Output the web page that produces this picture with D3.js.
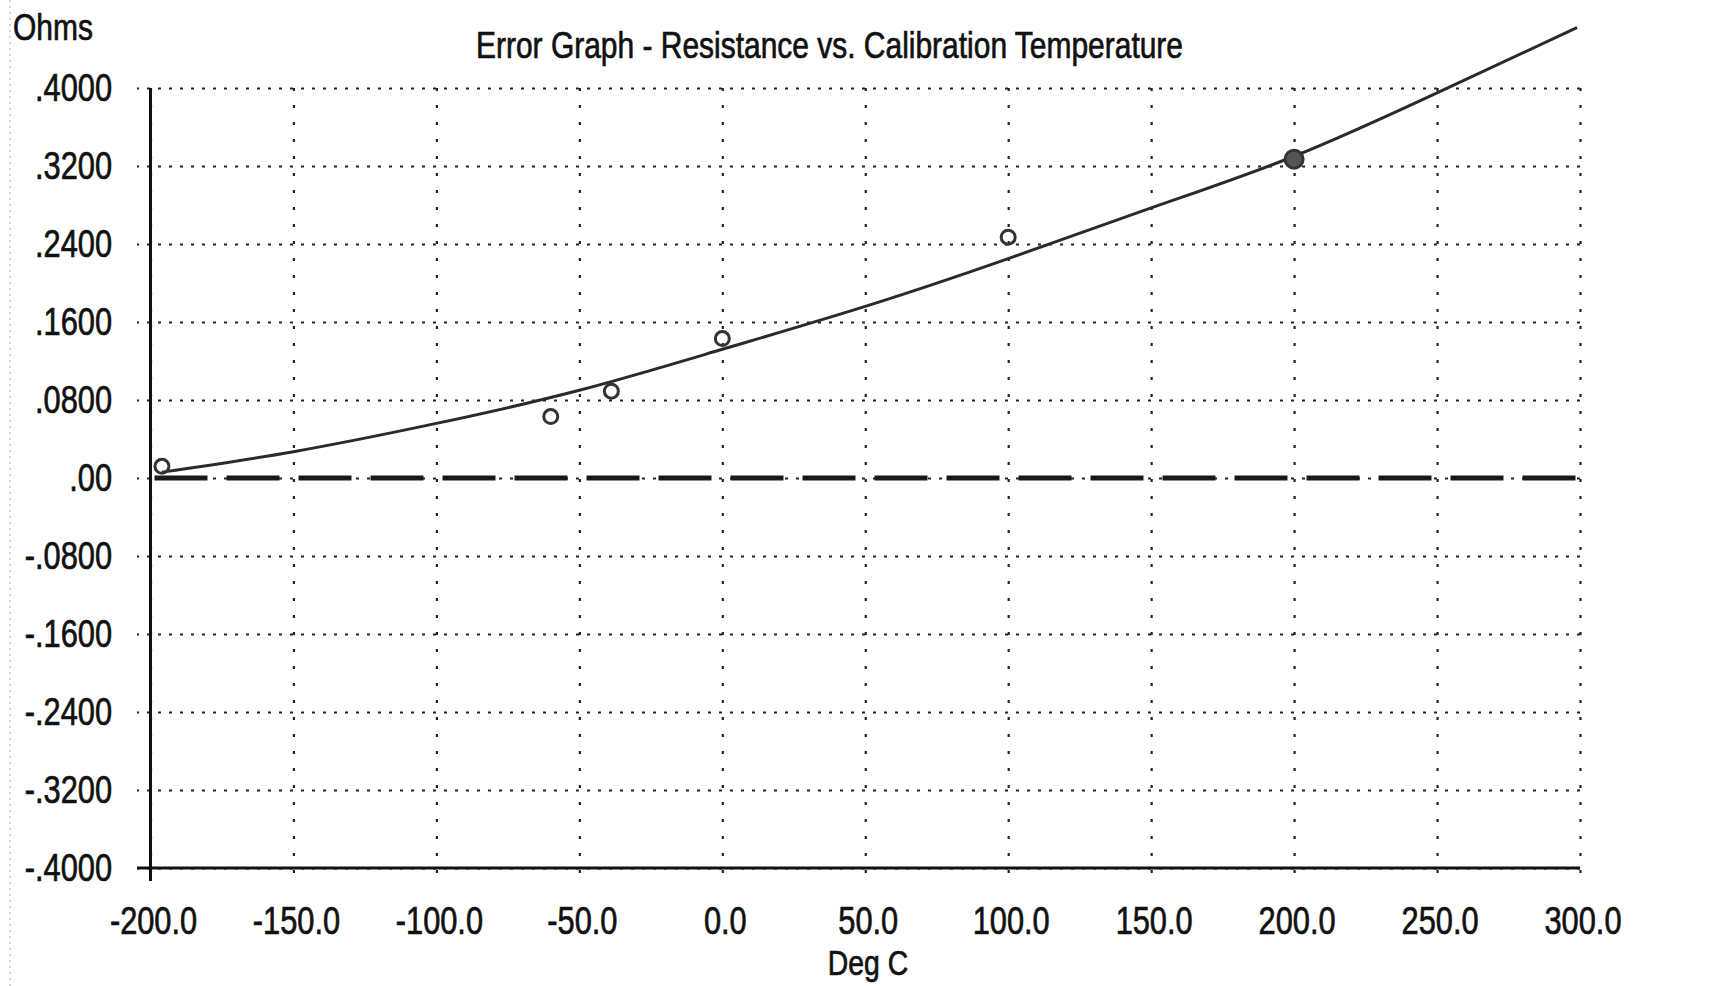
<!DOCTYPE html>
<html>
<head>
<meta charset="utf-8">
<script src="https://cdn.jsdelivr.net/npm/d3@7"></script>
<style>
  html, body { margin: 0; padding: 0; background: #fff; }
  svg { display: block; }
  text { font-family: "Liberation Sans", Arial, sans-serif; fill: #111; stroke: #111; stroke-width: 0.7; }
</style>
</head>
<body>
<svg id="chart" width="1723" height="986"></svg>
<script>
// ---- data ----
const titleText = "Error Graph - Resistance vs. Calibration Temperature";
const yAxisTitle = "Ohms";
const xAxisTitle = "Deg C";

const xTicks = [-200, -150, -100, -50, 0, 50, 100, 150, 200, 250, 300];
const xTickLabels = ["-200.0", "-150.0", "-100.0", "-50.0", "0.0", "50.0", "100.0", "150.0", "200.0", "250.0", "300.0"];

const yTicks = [0.4, 0.32, 0.24, 0.16, 0.08, 0, -0.08, -0.16, -0.24, -0.32, -0.4];
const yTickLabels = [".4000", ".3200", ".2400", ".1600", ".0800", ".00", "-.0800", "-.1600", "-.2400", "-.3200", "-.4000"];

// fitted error curve
const curveTemps  = [-196, -150, -100, -50, 0, 50, 100, 150, 200, 250, 299];
const curveErrors = [0.006, 0.027, 0.056, 0.090, 0.132, 0.176, 0.225, 0.277, 0.330, 0.395, 0.462];

// calibration points
const pointTemps  = [-196, -60, -38.8, 0.01, 100, 200];
const pointErrors = [0.012, 0.063, 0.089, 0.143, 0.247, 0.327];
const pointFilled = [false, false, false, false, false, true];

// zero reference line
const zeroLine = [[-200, 0], [300, 0]];

// ---- drawing ----
const svg = d3.select("#chart");
const sx = 0.81; // horizontal compression of the narrow bitmap font

const x = d3.scaleLinear().domain([-200, 300]).range([150.5, 1580]);
const y = d3.scaleLinear().domain([-0.4, 0.4]).range([868, 88]);

function label(g, txt, px, py, anchor, size) {
  return g.append("text")
    .attr("transform", `translate(${px},${py}) scale(${sx},1)`)
    .attr("text-anchor", anchor)
    .attr("font-size", size)
    .text(txt);
}

// faint window border at the left
svg.append("line")
  .attr("x1", 10).attr("x2", 10).attr("y1", 0).attr("y2", 986)
  .attr("stroke", "#aaa").attr("stroke-width", 1)
  .attr("stroke-dasharray", "2,4");

// horizontal grid via axis
const gy = svg.append("g")
  .attr("transform", `translate(${x(300)},0)`)
  .call(d3.axisLeft(y).tickValues(yTicks).tickSize(x(300) - 137).tickFormat(""));
gy.select(".domain").remove();
gy.selectAll(".tick line")
  .attr("stroke", "#222").attr("stroke-width", 2.2)
  .attr("stroke-dasharray", "3,8");

// vertical grid via axis
const gx = svg.append("g")
  .attr("transform", `translate(0,${y(0.4)})`)
  .call(d3.axisBottom(x).tickValues(xTicks).tickSize(880 - y(0.4)).tickFormat(""));
gx.select(".domain").remove();
gx.selectAll(".tick line")
  .attr("stroke", "#222").attr("stroke-width", 2.2)
  .attr("stroke-dasharray", "3,14");

// solid axes
svg.append("line")
  .attr("x1", x(-200)).attr("x2", x(-200))
  .attr("y1", y(0.4)).attr("y2", 881)
  .attr("stroke", "#111").attr("stroke-width", 3);
svg.append("line")
  .attr("x1", 137).attr("x2", x(300))
  .attr("y1", y(-0.4)).attr("y2", y(-0.4))
  .attr("stroke", "#111").attr("stroke-width", 3);

// zero dashed line
svg.append("path")
  .datum(zeroLine)
  .attr("d", d3.line().x(d => x(d[0]) + 4).y(d => y(d[1])))
  .attr("fill", "none")
  .attr("stroke", "#1a1a1a").attr("stroke-width", 5)
  .attr("stroke-dasharray", "53,19");

// fitted curve
const curveData = curveTemps.map((t, i) => [t, curveErrors[i]]);
svg.append("path")
  .datum(curveData)
  .attr("d", d3.line().x(d => x(d[0])).y(d => y(d[1])).curve(d3.curveNatural))
  .attr("fill", "none")
  .attr("stroke", "#2a2a2a").attr("stroke-width", 3);

// calibration points
const pts = pointTemps.map((t, i) => ({ t, v: pointErrors[i], f: pointFilled[i] }));
svg.append("g").selectAll("circle")
  .data(pts).enter().append("circle")
  .attr("cx", d => x(d.t))
  .attr("cy", d => y(d.v))
  .attr("r", d => d.f ? 9 : 7)
  .attr("fill", d => d.f ? "#555" : "none")
  .attr("stroke", "#333")
  .attr("stroke-width", 3);

// tick labels
const tl = svg.append("g");
yTicks.forEach((v, i) => {
  label(tl, yTickLabels[i], 112, y(v) + 13, "end", 38);
});
xTicks.forEach((v, i) => {
  label(tl, xTickLabels[i], x(v) + 3, 934, "middle", 38);
});

// titles
svg.append("text")
  .attr("x", 476).attr("y", 58)
  .attr("font-size", 37)
  .attr("textLength", 707)
  .attr("lengthAdjust", "spacingAndGlyphs")
  .text(titleText);
label(svg, yAxisTitle, 13, 40, "start", 37);
label(svg, xAxisTitle, 868, 975, "middle", 35);
</script>
</body>
</html>
